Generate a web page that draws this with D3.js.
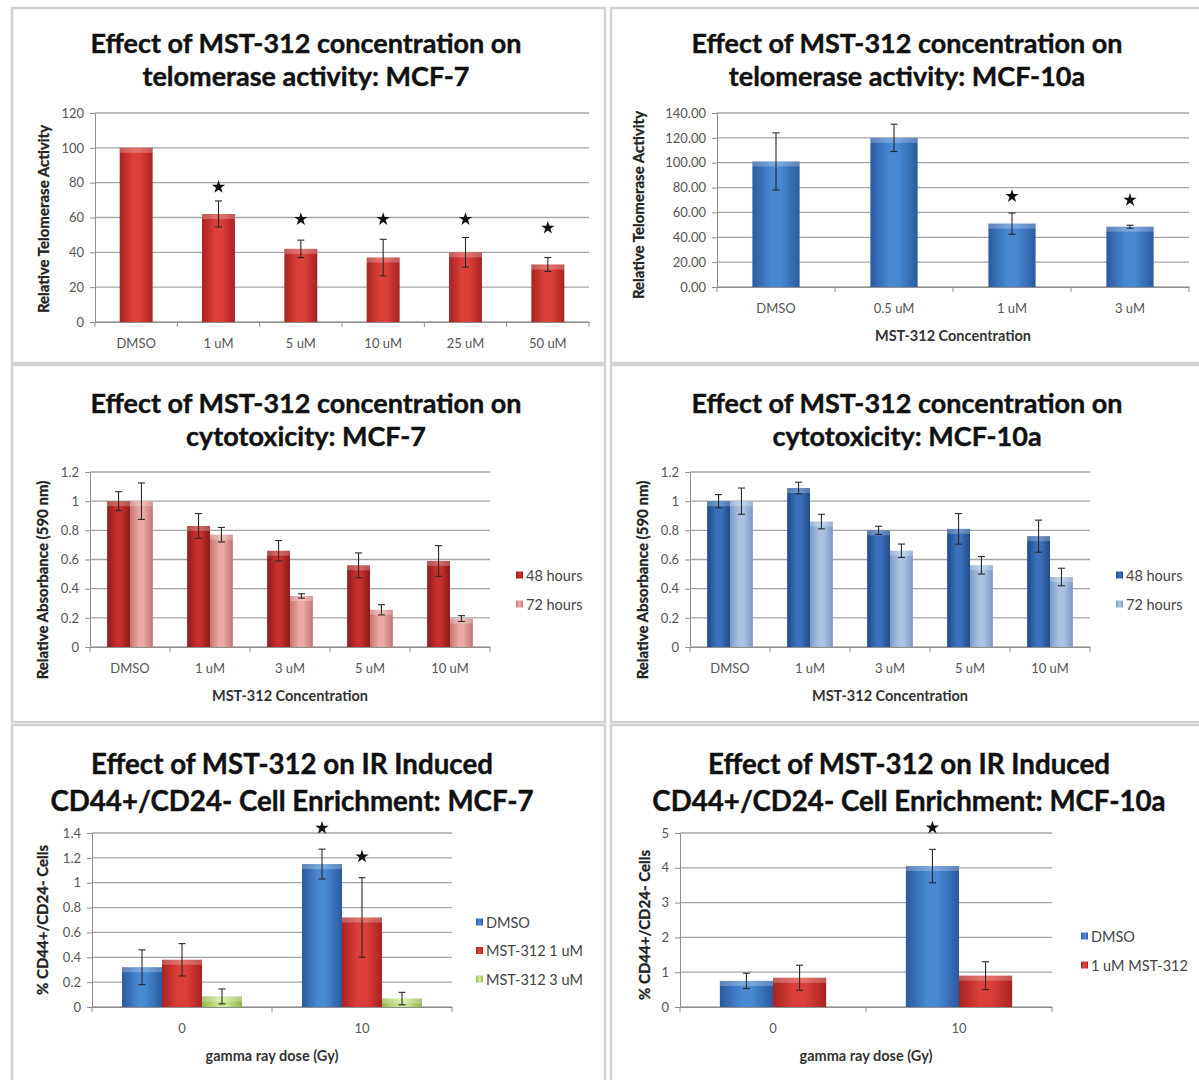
<!DOCTYPE html>
<html>
<head>
<meta charset="utf-8">
<script src="https://cdn.jsdelivr.net/npm/d3@7"></script>
<style>
  body { margin: 0; background: #fff; }
  svg { display: block; }
  text { font-family: Lato, "Open Sans", sans-serif; }
</style>
</head>
<body>
<svg id="fig" width="1199" height="1080"></svg>
<script>
// ---------- data ----------
// Telomerase activity, MCF-7
const telomMcf7Cats  = ["DMSO", "1 uM", "5 uM", "10 uM", "25 uM", "50 uM"];
const telomMcf7Vals  = [100, 62, 42, 37, 40, 33];
const telomMcf7Err   = [0, 7.5, 5, 10.5, 8.5, 4];
const telomMcf7Stars = [null, 77.5, 59, 59, 59, 54];
const telomMcf7Ticks = [0, 20, 40, 60, 80, 100, 120];

// Telomerase activity, MCF-10a
const telom10aCats  = ["DMSO", "0.5 uM", "1 uM", "3 uM"];
const telom10aVals  = [101, 120, 51, 48.5];
const telom10aErr   = [23, 11, 8.5, 1.2];
const telom10aStars = [null, null, 73, 70];
const telom10aTicks = [0, 20, 40, 60, 80, 100, 120, 140];

// Cytotoxicity (relative absorbance at 590 nm)
const cytoCats    = ["DMSO", "1 uM", "3 uM", "5 uM", "10 uM"];
const cytoSeries  = ["48 hours", "72 hours"];
const cytoTicks   = [0, 0.2, 0.4, 0.6, 0.8, 1, 1.2];
const cytoMcf7_48    = [1.0, 0.83, 0.66, 0.56, 0.59];
const cytoMcf7_48Err = [0.065, 0.085, 0.07, 0.085, 0.105];
const cytoMcf7_72    = [1.0, 0.77, 0.35, 0.255, 0.195];
const cytoMcf7_72Err = [0.125, 0.05, 0.015, 0.035, 0.02];
const cyto10a_48     = [1.0, 1.09, 0.80, 0.81, 0.76];
const cyto10a_48Err  = [0.045, 0.04, 0.028, 0.105, 0.11];
const cyto10a_72     = [1.0, 0.86, 0.66, 0.56, 0.48];
const cyto10a_72Err  = [0.09, 0.05, 0.046, 0.06, 0.06];

// IR induced CD44+/CD24- enrichment
const irDoses      = ["0", "10"];
const irMcf7Series = ["DMSO", "MST-312 1 uM", "MST-312 3 uM"];
const irMcf7Dmso     = [0.32, 1.15];
const irMcf7DmsoErr  = [0.14, 0.12];
const irMcf7Mst1     = [0.38, 0.72];
const irMcf7Mst1Err  = [0.13, 0.32];
const irMcf7Mst3     = [0.085, 0.068];
const irMcf7Mst3Err  = [0.06, 0.05];
const irMcf7DmsoStars = [null, 1.44];
const irMcf7Mst1Stars = [null, 1.21];
const irMcf7Ticks  = [0, 0.2, 0.4, 0.6, 0.8, 1, 1.2, 1.4];

const ir10aSeries   = ["DMSO", "1 uM MST-312"];
const ir10aDmso     = [0.75, 4.05];
const ir10aDmsoErr  = [0.22, 0.48];
const ir10aMst      = [0.84, 0.9];
const ir10aMstErr   = [0.36, 0.4];
const ir10aDmsoStars = [null, 5.15];
const ir10aTicks    = [0, 1, 2, 3, 4, 5];

// ---------- drawing ----------
const svg = d3.select("#fig");
const defs = svg.append("defs");

// bar fills: darker edges, lighter middle
const palette = {
  red:      { mid: "#dc3f3a", edge: "#a82320" },
  blue:     { mid: "#4a88d3", edge: "#285a9e" },
  darkRed:  { mid: "#c62f2c", edge: "#8c1b19" },
  lightRed: { mid: "#e9a7a6", edge: "#c47574" },
  darkBlue: { mid: "#3a70ba", edge: "#1f4a88" },
  lightBlue:{ mid: "#a9c2e3", edge: "#7a9ac5" },
  green:    { mid: "#c8e48e", edge: "#93b351" }
};
Object.entries(palette).forEach(([k, c]) => {
  const lg = defs.append("linearGradient").attr("id", "g-" + k)
    .attr("x1", 0).attr("x2", 1).attr("y1", 0).attr("y2", 0);
  lg.append("stop").attr("offset", "0%").attr("stop-color", c.edge);
  lg.append("stop").attr("offset", "40%").attr("stop-color", c.mid);
  lg.append("stop").attr("offset", "60%").attr("stop-color", c.mid);
  lg.append("stop").attr("offset", "100%").attr("stop-color", c.edge);
});

const starPath = d3.symbol(d3.symbolStar).size(55)();

function panel(cfg) {
  const g = svg.append("g");
  const [fx, fy, fw, fh] = cfg.frame;
  g.append("rect").attr("x", fx).attr("y", fy).attr("width", fw).attr("height", fh)
    .attr("fill", "#fff").attr("stroke", "#d2d2d2").attr("stroke-width", 2.5);

  // title
  cfg.title.forEach((line, i) => {
    g.append("text").attr("x", cfg.titleX).attr("y", cfg.titleY[i])
      .attr("text-anchor", "middle").attr("dominant-baseline", "central")
      .attr("font-size", cfg.titleSize).attr("font-weight", 700).attr("fill", "#111")
      .attr("stroke", "#111").attr("stroke-width", 0.4)
      .text(line);
  });

  const x = d3.scaleBand().domain(cfg.cats).range([cfg.left, cfg.right]);
  const y = d3.scaleLinear().domain([0, cfg.yMax]).range([cfg.bottom, cfg.top]);

  // horizontal gridlines
  g.append("g").selectAll("line").data(cfg.yTicks).join("line")
    .attr("x1", cfg.left).attr("x2", cfg.right)
    .attr("y1", d => y(d)).attr("y2", d => y(d))
    .attr("stroke", "#a4a4a4").attr("stroke-width", 1.3);

  // value axis
  const ya = g.append("g").attr("transform", `translate(${cfg.left},0)`)
    .call(d3.axisLeft(y).tickValues(cfg.yTicks).tickFormat(cfg.fmt)
      .tickSize(5).tickSizeOuter(0).tickPadding(6));
  ya.attr("font-family", null).attr("font-size", null);
  ya.select(".domain").attr("stroke", "#8e8e8e");
  ya.selectAll(".tick line").attr("stroke", "#8e8e8e");
  ya.selectAll(".tick text").attr("font-size", 13).attr("fill", "#555");

  // category axis
  const xa = g.append("g").attr("transform", `translate(0,${cfg.bottom})`)
    .call(d3.axisBottom(x).tickSize(0).tickSizeOuter(0).tickPadding(cfg.catPad));
  xa.attr("font-family", null).attr("font-size", null);
  xa.select(".domain").attr("stroke", "#8e8e8e");
  xa.selectAll(".tick text").attr("font-size", 13).attr("fill", "#555");
  const bounds = cfg.cats.map(c => x(c)).concat([x.range()[1]]);
  g.append("g").selectAll("line").data(bounds).join("line")
    .attr("x1", d => d).attr("x2", d => d)
    .attr("y1", cfg.bottom).attr("y2", cfg.bottom + 5)
    .attr("stroke", "#8e8e8e");

  // bars, error bars and significance stars
  const n = cfg.series.length;
  const bw = x.bandwidth() / (n + 1.5);
  const off = (x.bandwidth() - n * bw) / 2;
  cfg.series.forEach((s, si) => {
    const data = cfg.cats.map((c, i) => ({
      c, v: s.values[i], e: s.errors[i], star: s.stars ? s.stars[i] : null
    }));
    const bx = d => x(d.c) + off + si * bw;
    const sg = g.append("g");
    sg.selectAll("rect.bar").data(data).join("rect").attr("class", "bar")
      .attr("x", bx).attr("width", bw)
      .attr("y", d => y(d.v)).attr("height", d => y(0) - y(d.v))
      .attr("fill", `url(#g-${s.color})`);
    sg.selectAll("rect.hl").data(data).join("rect").attr("class", "hl")
      .attr("x", bx).attr("width", bw)
      .attr("y", d => y(d.v)).attr("height", d => Math.min(5, y(0) - y(d.v)))
      .attr("fill", "#fff").attr("opacity", 0.25);

    const eb = sg.selectAll("g.err").data(data.filter(d => d.e > 0)).join("g").attr("class", "err")
      .attr("stroke", "#2a2a2a").attr("stroke-width", 1.1);
    eb.append("line")
      .attr("x1", d => bx(d) + bw / 2).attr("x2", d => bx(d) + bw / 2)
      .attr("y1", d => y(d.v + d.e)).attr("y2", d => y(d.v - d.e));
    eb.append("line")
      .attr("x1", d => bx(d) + bw / 2 - 3.5).attr("x2", d => bx(d) + bw / 2 + 3.5)
      .attr("y1", d => y(d.v + d.e)).attr("y2", d => y(d.v + d.e));
    eb.append("line")
      .attr("x1", d => bx(d) + bw / 2 - 3.5).attr("x2", d => bx(d) + bw / 2 + 3.5)
      .attr("y1", d => y(d.v - d.e)).attr("y2", d => y(d.v - d.e));

    sg.selectAll("path.star").data(data.filter(d => d.star != null)).join("path").attr("class", "star")
      .attr("d", starPath)
      .attr("transform", d => `translate(${bx(d) + bw / 2},${y(d.star)})`)
      .attr("fill", "#111");
  });

  // axis titles
  g.append("text")
    .attr("transform", `translate(${cfg.yTitleX},${cfg.yTitleY}) rotate(-90)`)
    .attr("text-anchor", "middle").attr("dominant-baseline", "central")
    .attr("font-size", cfg.yTitleSize).attr("font-weight", 700).attr("fill", "#222")
    .attr("stroke", "#222").attr("stroke-width", 0.3)
    .text(cfg.yTitle);
  if (cfg.xTitle) {
    g.append("text").attr("x", (cfg.left + cfg.right) / 2).attr("y", cfg.xTitleY)
      .attr("text-anchor", "middle").attr("dominant-baseline", "central")
      .attr("font-size", 14.5).attr("font-weight", 700).attr("fill", "#333")
      .text(cfg.xTitle);
  }

  // legend
  if (cfg.legend) {
    const lg = g.append("g");
    cfg.series.forEach((s, i) => {
      const ly = cfg.legend.y0 + i * cfg.legend.dy;
      lg.append("rect").attr("x", cfg.legend.x).attr("y", ly - 3.5)
        .attr("width", 7).attr("height", 7).attr("fill", `url(#g-${s.color})`);
      lg.append("text").attr("x", cfg.legend.x + 10).attr("y", ly)
        .attr("dominant-baseline", "central").attr("font-size", 14.5).attr("fill", "#444")
        .text(s.name);
    });
  }
}

// top left
panel({
  frame: [12, 8, 593, 355],
  title: ["Effect of MST-312 concentration on", "telomerase activity: MCF-7"],
  titleX: 306, titleY: [42, 75], titleSize: 27,
  cats: telomMcf7Cats, left: 95, right: 589, top: 113, bottom: 322,
  yMax: 120, yTicks: telomMcf7Ticks, fmt: d3.format("d"), catPad: 17,
  series: [{ name: "MCF-7", values: telomMcf7Vals, errors: telomMcf7Err, stars: telomMcf7Stars, color: "red" }],
  yTitle: "Relative Telomerase Activity", yTitleX: 43, yTitleY: 219, yTitleSize: 15
});

// top right
panel({
  frame: [611, 8, 592, 355],
  title: ["Effect of MST-312 concentration on", "telomerase activity: MCF-10a"],
  titleX: 907, titleY: [42, 75], titleSize: 27,
  cats: telom10aCats, left: 717, right: 1189, top: 113, bottom: 287,
  yMax: 140, yTicks: telom10aTicks, fmt: d3.format(".2f"), catPad: 17,
  series: [{ name: "MCF-10a", values: telom10aVals, errors: telom10aErr, stars: telom10aStars, color: "blue" }],
  yTitle: "Relative Telomerase Activity", yTitleX: 638, yTitleY: 205, yTitleSize: 15,
  xTitle: "MST-312 Concentration", xTitleY: 335
});

// middle left
panel({
  frame: [12, 365, 593, 357],
  title: ["Effect of MST-312 concentration on", "cytotoxicity: MCF-7"],
  titleX: 306, titleY: [402, 435], titleSize: 27,
  cats: cytoCats, left: 90, right: 490, top: 472, bottom: 647,
  yMax: 1.2, yTicks: cytoTicks, fmt: d3.format("~g"), catPad: 17,
  series: [
    { name: cytoSeries[0], values: cytoMcf7_48, errors: cytoMcf7_48Err, color: "darkRed" },
    { name: cytoSeries[1], values: cytoMcf7_72, errors: cytoMcf7_72Err, color: "lightRed" }
  ],
  yTitle: "Relative Absorbance (590 nm)", yTitleX: 42, yTitleY: 580, yTitleSize: 15,
  xTitle: "MST-312 Concentration", xTitleY: 695,
  legend: { x: 516, y0: 575, dy: 29 }
});

// middle right
panel({
  frame: [611, 365, 592, 357],
  title: ["Effect of MST-312 concentration on", "cytotoxicity: MCF-10a"],
  titleX: 907, titleY: [402, 435], titleSize: 27,
  cats: cytoCats, left: 690, right: 1090, top: 472, bottom: 647,
  yMax: 1.2, yTicks: cytoTicks, fmt: d3.format("~g"), catPad: 17,
  series: [
    { name: cytoSeries[0], values: cyto10a_48, errors: cyto10a_48Err, color: "darkBlue" },
    { name: cytoSeries[1], values: cyto10a_72, errors: cyto10a_72Err, color: "lightBlue" }
  ],
  yTitle: "Relative Absorbance (590 nm)", yTitleX: 642, yTitleY: 580, yTitleSize: 15,
  xTitle: "MST-312 Concentration", xTitleY: 695,
  legend: { x: 1116, y0: 575, dy: 29 }
});

// bottom left
panel({
  frame: [12, 725, 593, 362],
  title: ["Effect of MST-312 on IR Induced", "CD44+/CD24- Cell Enrichment: MCF-7"],
  titleX: 292, titleY: [763, 800], titleSize: 27.7,
  cats: irDoses, left: 92, right: 452, top: 833, bottom: 1007,
  yMax: 1.4, yTicks: irMcf7Ticks, fmt: d3.format("~g"), catPad: 17,
  series: [
    { name: irMcf7Series[0], values: irMcf7Dmso, errors: irMcf7DmsoErr, stars: irMcf7DmsoStars, color: "blue" },
    { name: irMcf7Series[1], values: irMcf7Mst1, errors: irMcf7Mst1Err, stars: irMcf7Mst1Stars, color: "red" },
    { name: irMcf7Series[2], values: irMcf7Mst3, errors: irMcf7Mst3Err, color: "green" }
  ],
  yTitle: "% CD44+/CD24- Cells", yTitleX: 42, yTitleY: 920, yTitleSize: 15,
  xTitle: "gamma ray dose (Gy)", xTitleY: 1055,
  legend: { x: 476, y0: 922, dy: 28.5 }
});

// bottom right
panel({
  frame: [611, 725, 592, 362],
  title: ["Effect of MST-312 on IR Induced", "CD44+/CD24- Cell Enrichment: MCF-10a"],
  titleX: 909, titleY: [763, 800], titleSize: 27.7,
  cats: irDoses, left: 680, right: 1052, top: 833, bottom: 1007,
  yMax: 5, yTicks: ir10aTicks, fmt: d3.format("d"), catPad: 17,
  series: [
    { name: ir10aSeries[0], values: ir10aDmso, errors: ir10aDmsoErr, stars: ir10aDmsoStars, color: "blue" },
    { name: ir10aSeries[1], values: ir10aMst, errors: ir10aMstErr, color: "red" }
  ],
  yTitle: "% CD44+/CD24- Cells", yTitleX: 644, yTitleY: 925, yTitleSize: 15,
  xTitle: "gamma ray dose (Gy)", xTitleY: 1055,
  legend: { x: 1081, y0: 936, dy: 29 }
});
</script>
</body>
</html>
